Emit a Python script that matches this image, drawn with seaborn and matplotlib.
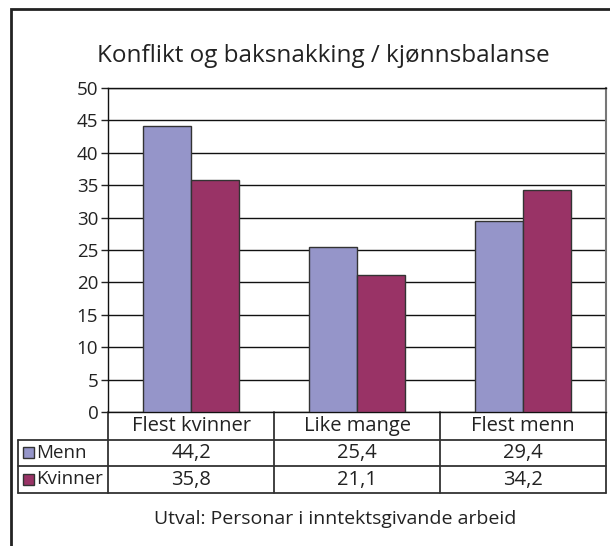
import matplotlib.pyplot as plt
import matplotlib.transforms as mtransforms
import pandas as pd
import seaborn as sns
from matplotlib.patches import Rectangle

categories = ["Flest kvinner", "Like mange", "Flest menn"]
series_names = ["Menn", "Kvinner"]
menn_values = [44.2, 25.4, 29.4]
kvinner_values = [35.8, 21.1, 34.2]
y_ticks = [0, 5, 10, 15, 20, 25, 30, 35, 40, 45, 50]
colors = ["#9595c9", "#993366"]

title = "Konflikt og baksnakking / kjønnsbalanse"
footnote = "Utval: Personar i inntektsgivande arbeid"

W, H = 610, 546

df = pd.DataFrame({
    "kategori": categories * 2,
    "serie": [series_names[0]] * 3 + [series_names[1]] * 3,
    "verdi": menn_values + kvinner_values,
})

sns.set_theme(style="white")
plt.rcParams["font.family"] = ["Open Sans", "DejaVu Sans"]


def fx(px):
    return px / W


def fy(py):
    return 1 - py / H


fig = plt.figure(figsize=(W / 100, H / 100), dpi=100)
ax = fig.add_axes([fx(108), fy(412), fx(606) - fx(108), fy(88) - fy(412)])

sns.barplot(
    data=df, x="kategori", y="verdi", hue="serie", order=categories,
    hue_order=series_names, palette=colors, saturation=1, width=0.58, gap=0,
    edgecolor="#333333", linewidth=1.0, ax=ax, legend=False, zorder=3,
)

ax.set_xlim(-0.5, len(categories) - 0.5)
ax.set_ylim(0, 50)
ax.set_yticks(y_ticks)
ax.set_yticklabels([str(t) for t in y_ticks], fontsize=13.5, color="#222222")
ax.set_xticks([])
ax.set_xlabel("")
ax.set_ylabel("")
ax.tick_params(axis="y", left=True, length=5, width=1, color="#222222", pad=2)
ax.yaxis.grid(True, color="#111111", linewidth=1.0, zorder=0)
ax.set_axisbelow(True)
for side in ["left", "bottom", "top"]:
    ax.spines[side].set_color("#111111")
    ax.spines[side].set_linewidth(1.0)
ax.spines["right"].set_color("#777777")
ax.spines["right"].set_linewidth(1.5)

# outer frame
fig.patches.append(Rectangle((fx(11), fy(560)), fx(620), fy(9) - fy(560),
                             transform=fig.transFigure, fill=False,
                             edgecolor="#222222", linewidth=2))

fig.text(fx(323), fy(56), title, ha="center", va="center", fontsize=17.5,
         color="#222222")

# data table under the axis
trans = mtransforms.blended_transform_factory(ax.transData, fig.transFigure)
line_kw = dict(color="#333333", linewidth=1.3, clip_on=False)
row_edges = [412, 439.5, 466, 493]
x_left, x_right = -0.5, len(categories) - 0.5
for yy in row_edges[1:]:
    ax.plot([x_left, x_right], [fy(yy), fy(yy)], transform=trans, **line_kw)
for i in range(len(categories) + 1):
    xx = i - 0.5
    ax.plot([xx, xx], [fy(412), fy(493)], transform=trans, **line_kw)

cell_kw = dict(transform=trans, ha="center", va="center", fontsize=14.5, color="#222222")
for i, cat in enumerate(categories):
    ax.text(i, fy((row_edges[0] + row_edges[1]) / 2), cat, **cell_kw)
    ax.text(i, fy((row_edges[1] + row_edges[2]) / 2),
            f"{menn_values[i]:.1f}".replace(".", ","), **cell_kw)
    ax.text(i, fy((row_edges[2] + row_edges[3]) / 2),
            f"{kvinner_values[i]:.1f}".replace(".", ","), **cell_kw)

# legend column of table
for yy in row_edges[1:]:
    fig.add_artist(plt.Line2D([fx(18), fx(108)], [fy(yy), fy(yy)],
                              transform=fig.transFigure, color="#333333", linewidth=1.3))
fig.add_artist(plt.Line2D([fx(18), fx(18)], [fy(439.5), fy(493)],
                          transform=fig.transFigure, color="#333333", linewidth=1.3))
for k, name in enumerate(series_names):
    yc = (row_edges[k + 1] + row_edges[k + 2]) / 2
    fig.patches.append(Rectangle((fx(23), fy(yc + 5.5)), fx(11), fy(yc - 5.5) - fy(yc + 5.5),
                                 transform=fig.transFigure, facecolor=colors[k],
                                 edgecolor="#333333", linewidth=1))
    fig.text(fx(36), fy(yc), name, ha="left", va="center", fontsize=13.5, color="#222222")

fig.text(fx(335), fy(519), footnote, ha="center", va="center", fontsize=14,
         color="#222222")

fig.savefig("out.png", dpi=100)
